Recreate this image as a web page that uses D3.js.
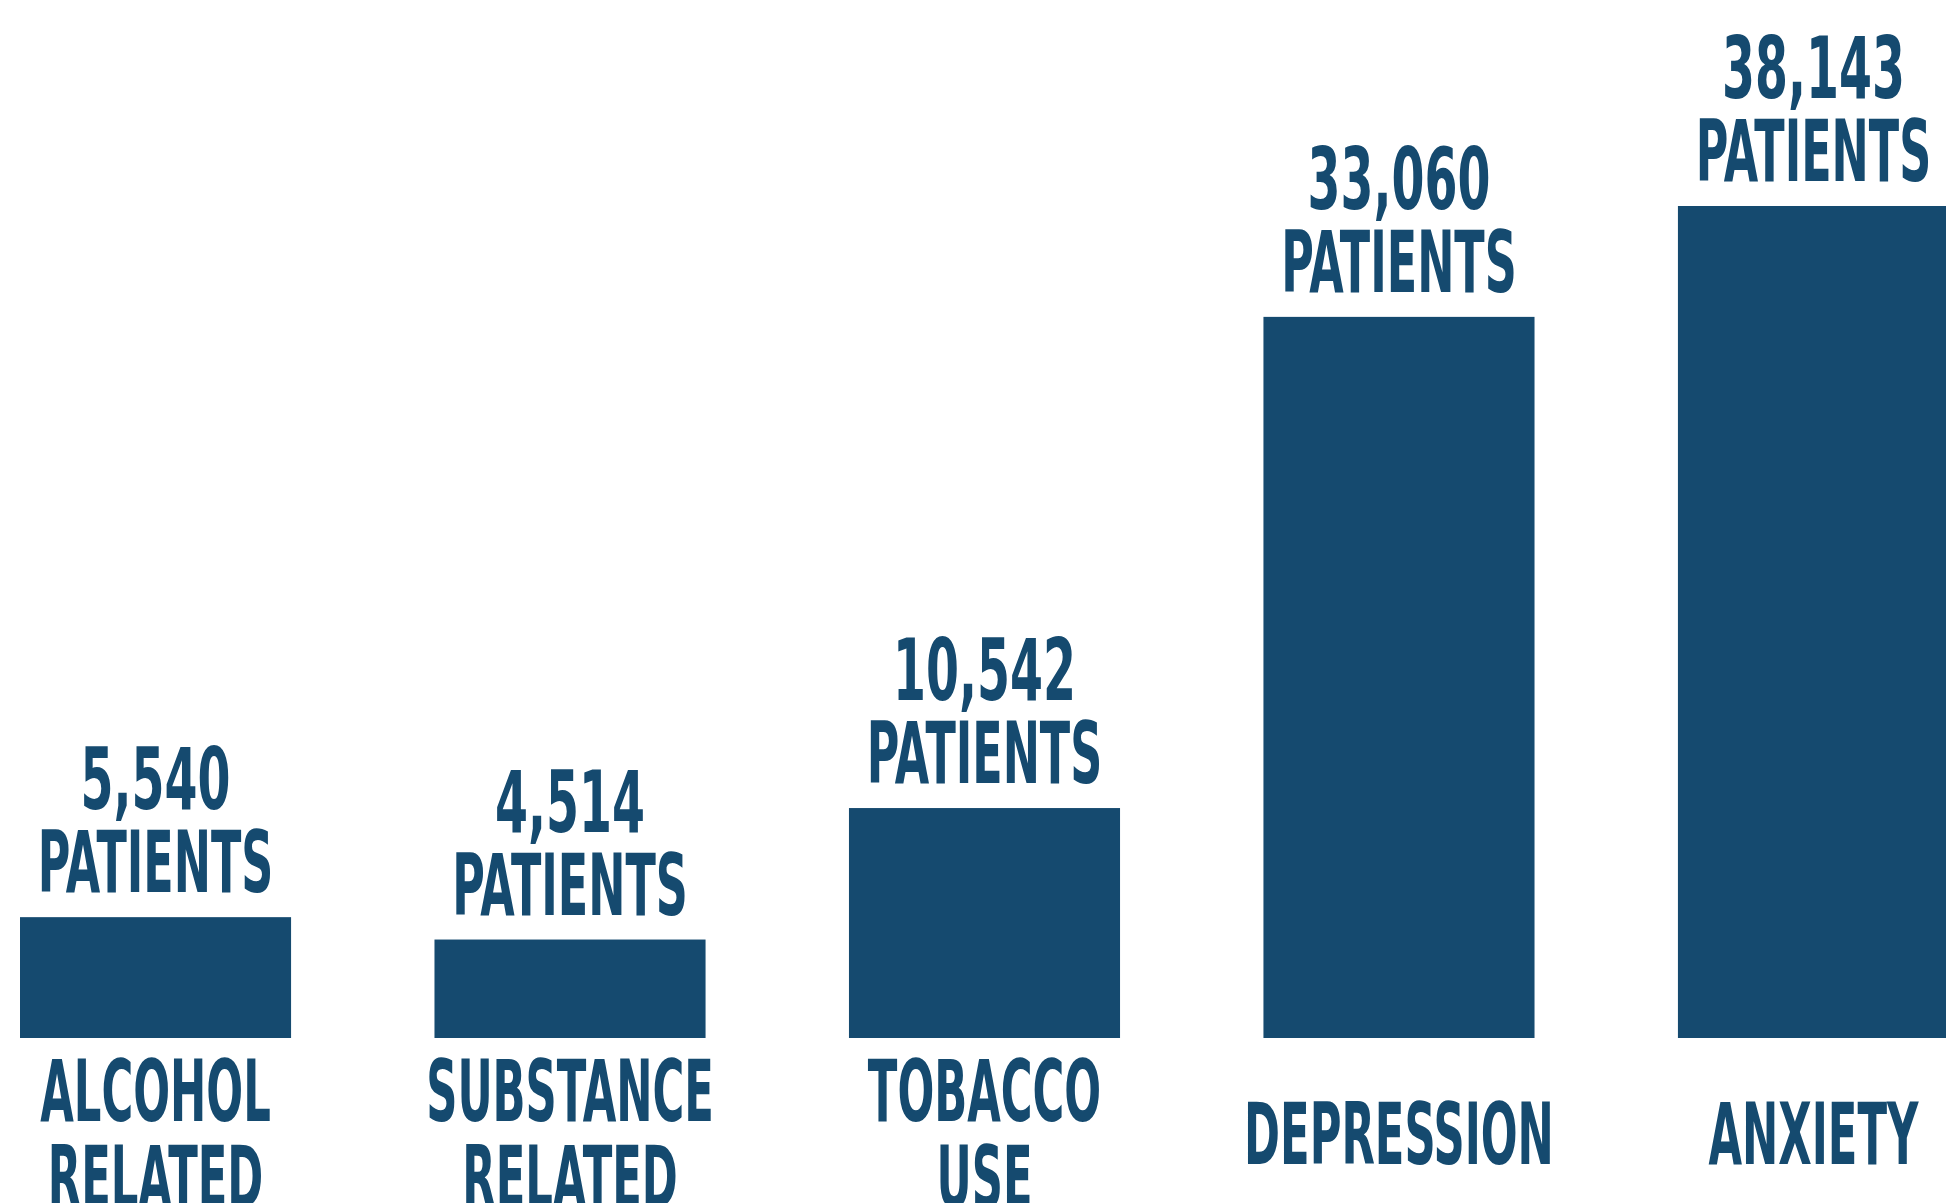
<!DOCTYPE html>
<html>
<head>
<meta charset="utf-8">
<script src="https://cdn.jsdelivr.net/npm/d3@7"></script>
<style>
  html, body { margin: 0; padding: 0; background: #fff; }
  svg { display: block; }
  text { font-family: "Liberation Sans Narrow", "DejaVu Sans Condensed", sans-serif; font-weight: bold; fill: #154a6f; }
</style>
</head>
<body>
<svg id="chart" width="1946" height="1203"></svg>
<script>
const categories = [
  ['ALCOHOL', 'RELATED'],
  ['SUBSTANCE', 'RELATED'],
  ['TOBACCO', 'USE'],
  ['DEPRESSION'],
  ['ANXIETY']
]
const patients = [5540, 4514, 10542, 33060, 38143]
const unitLabel = 'PATIENTS'

const barColor = '#154a6f'

const svg = d3.select('#chart')

const x = d3.scaleBand()
  .domain(d3.range(categories.length))
  .range([20, 1949])
  .paddingInner(0.346)
  .paddingOuter(0)

const y = d3.scaleLinear()
  .domain([0, d3.max(patients)])
  .range([1038, 206])

const fmt = d3.format(',')

const groups = svg.selectAll('g.bar')
  .data(patients)
  .join('g')
  .attr('class', 'bar')

groups.append('rect')
  .attr('x', (d, i) => x(i))
  .attr('width', x.bandwidth())
  .attr('y', d => y(d))
  .attr('height', d => y(0) - y(d))
  .style('fill', barColor)

const cx = i => x(i) + x.bandwidth() / 2

// value number
groups.append('text')
  .attr('text-anchor', 'middle')
  .attr('transform', (d, i) => `translate(${cx(i)},${y(d) - 108}) scale(0.62,1)`)
  .style('font-size', '85px')
  .text(d => fmt(d))

// "PATIENTS"
groups.append('text')
  .attr('text-anchor', 'middle')
  .attr('transform', (d, i) => `translate(${cx(i)},${y(d) - 25}) scale(0.575,1)`)
  .style('font-size', '86px')
  .text(unitLabel)

// category labels under the bars, centred vertically
const labelMid = 1132
const lineGap = 86
categories.forEach((lines, i) => {
  lines.forEach((line, j) => {
    const base = labelMid + 32 + (j - (lines.length - 1) / 2) * lineGap
    svg.append('text')
      .attr('text-anchor', 'middle')
      .attr('transform', `translate(${cx(i)},${base}) scale(0.56,1)`)
      .style('font-size', '86px')
      .text(line)
  })
})
</script>
</body>
</html>
